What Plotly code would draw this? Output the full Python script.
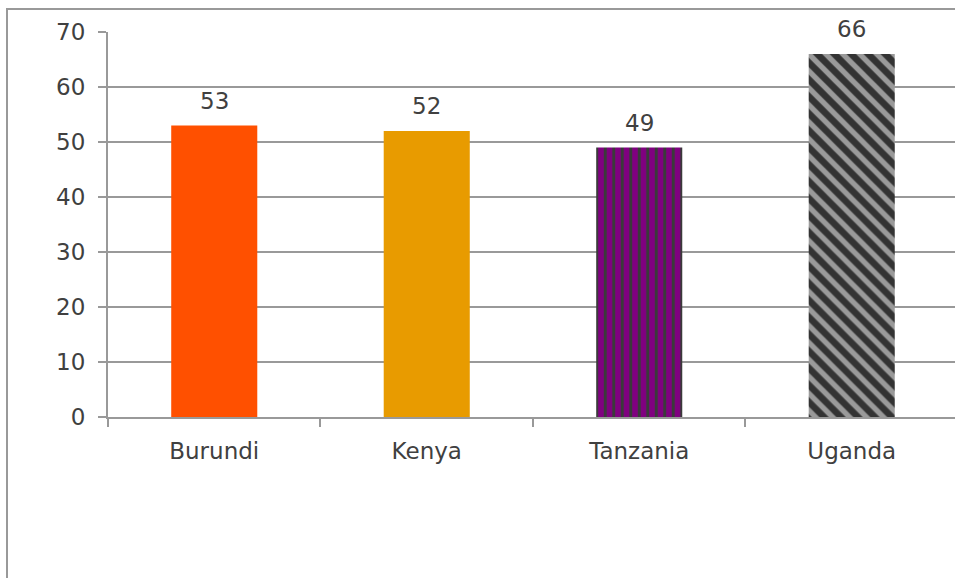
import plotly.graph_objects as go

categories = ["Burundi", "Kenya", "Tanzania", "Uganda"]
values = [53, 52, 49, 66]
colors = ["#FF5000", "#E89B00", "#800080", "#333333"]
pattern_shapes = ["", "", "|", "\\"]
pattern_fg = ["#FF5000", "#E89B00", "#3a3a3a", "#9a9a9a"]
pattern_size = [8, 8, 8.5, 12]
pattern_solidity = [0.3, 0.3, 0.35, 0.45]
y_ticks = [0, 10, 20, 30, 40, 50, 60, 70]

font_family = "'DejaVu Sans', sans-serif"
font_weight = 400
text_color = "#404040"

fig = go.Figure()
for cat, v, c, shp, fg, sz, sol in zip(categories, values, colors, pattern_shapes,
                                       pattern_fg, pattern_size, pattern_solidity):
    fig.add_trace(go.Bar(
        x=[cat],
        y=[v],
        width=0.405,
        hoverinfo="skip",
        marker=dict(
            color=c,
            line=dict(width=0),
            pattern=dict(shape=shp, fgcolor=fg, bgcolor=c, fgopacity=1,
                         size=sz, solidity=sol, fillmode="overlay"),
        ),
    ))
    fig.add_annotation(
        x=cat, y=v, text=str(v), showarrow=False,
        yanchor="bottom", yshift=10,
        font=dict(size=23, color=text_color, family=font_family, weight=font_weight),
    )

fig.update_layout(
    width=955, height=578,
    margin=dict(l=108, r=0, t=32, b=161),
    plot_bgcolor="white", paper_bgcolor="white",
    showlegend=False,
    barmode="overlay",
    xaxis=dict(
        range=[-0.5, 3.486],
        categoryorder="array", categoryarray=categories,
        showline=True, linecolor="#999999", linewidth=2,
        ticks="outside", ticklen=8, tickcolor="#999999", tickwidth=2,
        tickson="boundaries",
        ticklabelstandoff=12,
        tickfont=dict(size=23, color=text_color, family=font_family, weight=font_weight),
        showgrid=False,
    ),
    yaxis=dict(
        range=[0, 70],
        tickvals=y_ticks,
        showline=True, linecolor="#999999", linewidth=2,
        ticks="outside", ticklen=8, tickcolor="#999999", tickwidth=2,
        ticklabelstandoff=8,
        tickfont=dict(size=23, color=text_color, family=font_family, weight=font_weight),
        showgrid=True, gridcolor="#999999", gridwidth=2,
        zeroline=False,
    ),
    shapes=[dict(
        type="rect", xref="paper", yref="paper",
        x0=(7 - 108) / 847, x1=1.2,
        y0=-0.6, y1=(417 - 9) / 385,
        line=dict(color="#999999", width=2),
        fillcolor="rgba(0,0,0,0)", layer="below",
    )],
)

fig.write_html(
    "out.html",
    config={"displayModeBar": False},
    post_script="document.body.style.margin='0';document.body.style.overflow='hidden';",
)
